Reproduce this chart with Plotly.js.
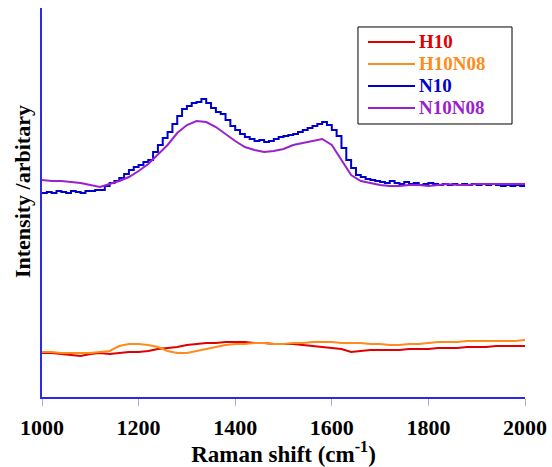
<!DOCTYPE html>
<html>
<head>
<meta charset="utf-8">
<script src="https://cdn.plot.ly/plotly-3.0.1.min.js"></script>
<style>html,body{margin:0;padding:0;background:#fff;}#chart{width:552px;height:467px;}</style>
</head>
<body>
<div id="chart"></div>
<script>
// Raman shift (cm^-1)
const shiftFine = [1000,1010,1020,1030,1040,1050,1060,1070,1080,1090,1100,1110,1120,1130,1140,1150,1160,1170,1180,1190,1200,1210,1220,1230,1240,1250,1260,1270,1280,1290,1300,1310,1320,1330,1340,1350,1360,1370,1380,1390,1400,1410,1420,1430,1440,1450,1460,1470,1480,1490,1500,1510,1520,1530,1540,1550,1560,1570,1580,1590,1600,1610,1620,1630,1640,1650,1660,1670,1680,1690,1700,1710,1720,1730,1740,1750,1760,1770,1780,1790,1800,1810,1820,1830,1840,1850,1860,1870,1880,1890,1900,1910,1920,1930,1940,1950,1960,1970,1980,1990,2000];
const shift20 = [1000,1020,1040,1060,1080,1100,1120,1140,1160,1180,1200,1220,1240,1260,1280,1300,1320,1340,1360,1380,1400,1420,1440,1460,1480,1500,1520,1540,1560,1580,1600,1620,1640,1660,1680,1700,1720,1740,1760,1780,1800,1820,1840,1860,1880,1900,1920,1940,1960,1980,2000];

// Intensities (arbitrary units)
const N10 = [204,205,204,206,205,204,206,205,204,206,206,207,207,211,214,216,219,223,227,230,232,235,237,245,252,259,265,273,281,288,291,294,295,298,294,289,285,283,277,271,267,263,260,258,256,257,255,256,258,260,261,262,263,265,267,269,271,273,275,272,267,261,249,237,229,222,220,218,217,216,215,214,216,214,213,215,213,214,212,213,214,213,212,213,212,213,212,213,212,213,212,213,212,213,212,211,212,211,212,211,211];
const N10N08 = [217,216,216,215,214,212,210,213,216,220,226,233,242,252,264,272,276,275,270,263,256,250,247,245,246,248,252,254,256,258,252,237,222,216,214,212,211,211,212,212,211,212,213,212,212,213,213,213,213,213,213];
const H10 = [44,44,43,42,41,43,44,43,44,45,45,46,48,49,50,52,53,54,54,55,55,55,54,54,53,53,53,52,51,50,49,48,45,46,47,47,47,47,48,48,48,49,49,49,50,50,50,51,51,51,51];
const H10N08 = [45,45,44,44,44,44,45,46,51,53,53,52,50,46,44,44,46,48,50,52,53,53,54,54,53,53,54,54,55,55,55,54,54,54,53,53,52,52,53,53,54,55,55,55,56,56,56,56,56,56,57];

const xTicks = [1000,1200,1400,1600,1800,2000];
const names = ['H10','H10N08','N10','N10N08'];
const colors = ['#e00000','#ff8c1a','#0000cc','#9a22cc'];

const F = 'Liberation Serif, Times New Roman, serif';

const traces = [
  {x: shift20, y: H10, mode: 'lines', name: names[0], line: {color: colors[0], width: 2}},
  {x: shift20, y: H10N08, mode: 'lines', name: names[1], line: {color: colors[1], width: 2}},
  {x: shiftFine, y: N10, mode: 'lines', name: names[2], line: {color: colors[2], width: 2, shape: 'hv'}},
  {x: shift20, y: N10N08, mode: 'lines', name: names[3], line: {color: colors[3], width: 2}}
];

// hand-placed legend (paper coordinates)
const legRowY = [0.9126, 0.8560, 0.7995, 0.7429];
const shapes = [{type: 'rect', xref: 'paper', yref: 'paper', x0: 0.6542, x1: 0.9731, y0: 0.7018, y1: 0.9512,
                 line: {color: '#000', width: 1}, fillcolor: '#fff', layer: 'above'}];
names.forEach((n, i) => {
  shapes.push({type: 'line', xref: 'paper', yref: 'paper', x0: 0.6749, x1: 0.7723, y0: legRowY[i], y1: legRowY[i],
               line: {color: colors[i], width: 2}, layer: 'above'});
});
const legendText = names.map((n, i) =>
  '<span style="color:' + colors[i] + ';font-size:19px">' + n + '</span>').join('<br>');
const annotations = [
  {xref: 'paper', yref: 'paper', x: 0.7785, y: 0.829, xanchor: 'left', yanchor: 'middle', align: 'left',
   text: legendText, showarrow: false, borderpad: 0,
   font: {family: F, size: 17, weight: 'bold', color: '#000'}},
  // y-axis title
  {xref: 'paper', yref: 'paper', x: -0.0393, y: 0.527, xanchor: 'center', yanchor: 'middle',
   textangle: -90, showarrow: false, text: 'Intensity /arbitary',
   font: {family: F, size: 22, weight: 'bold', color: '#000'}}
];

const layout = {
  width: 552, height: 467,
  margin: {l: 42, r: 27, t: 8, b: 70},
  paper_bgcolor: '#fff', plot_bgcolor: '#fff',
  font: {family: F, color: '#000'},
  showlegend: false,
  shapes: shapes,
  annotations: annotations,
  xaxis: {
    range: [1000, 2000], tickvals: xTicks, ticktext: xTicks.map(String),
    showline: true, linecolor: '#2a2ae8', linewidth: 2,
    ticks: 'outside', ticklen: 7, tickcolor: '#a8a8f0', tickwidth: 1, ticklabelstandoff: 3,
    showgrid: false, zeroline: false,
    tickfont: {family: F, size: 22, weight: 'bold', color: '#000'},
    title: {text: 'Raman shift (cm<sup>-1</sup>)', font: {family: F, size: 23, weight: 'bold', color: '#000'}, standoff: 6}
  },
  yaxis: {
    range: [0, 389], showline: true, linecolor: '#2a2ae8', linewidth: 2,
    ticks: '', showticklabels: false, showgrid: false, zeroline: false
  }
};

Plotly.newPlot('chart', traces, layout, {displayModeBar: false, staticPlot: true});
</script>
</body>
</html>
